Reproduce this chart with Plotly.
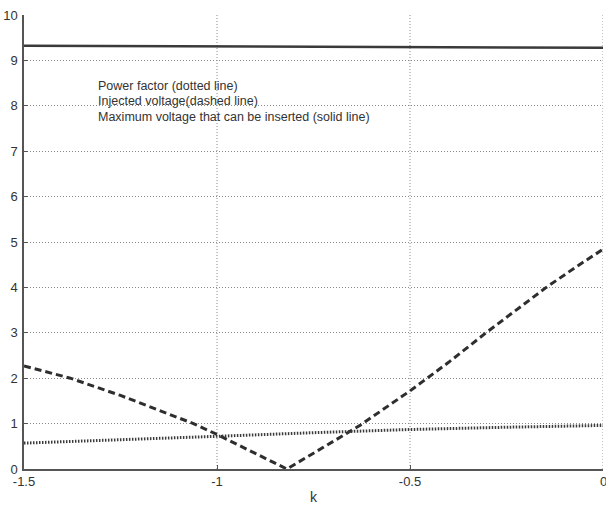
import plotly.graph_objects as go

# Maximum voltage that can be inserted (solid line)
k_max = [-1.5, -1.0, -0.5, 0.0]
v_max = [9.32, 9.31, 9.30, 9.28]

# Injected voltage (dashed line)
k_inj = [-1.5, -1.38, -1.25, -1.15, -1.061, -1.0, -0.9, -0.819,
         -0.72, -0.628, -0.5, -0.4, -0.303, -0.2, -0.147, -0.07, 0.0]
v_inj = [2.27, 2.0, 1.62, 1.3, 1.0, 0.76, 0.34, 0.0,
         0.5, 0.97, 1.72, 2.35, 3.0, 3.66, 4.0, 4.45, 4.84]

# Power factor (dotted line)
k_pf = [-1.5, -1.25, -1.0, -0.75, -0.5, -0.25, 0.0]
pf = [0.57, 0.64, 0.72, 0.80, 0.87, 0.92, 0.96]

x_ticks = [-1.5, -1, -0.5, 0]
x_tick_text = ["-1.5", "-1", "-0.5", "0"]
y_ticks = list(range(0, 11))

notes = ["Power factor (dotted line)",
         "Injected voltage(dashed line)",
         "Maximum voltage that can be inserted (solid line)"]
note_y = [8.44, 8.1, 7.76]

ink = "#333333"
font_fam = "Liberation Sans, Arial"

fig = go.Figure()
fig.add_trace(go.Scatter(x=k_max, y=v_max, mode="lines",
                         line=dict(color="#3a3a3a", width=2.5)))
fig.add_trace(go.Scatter(x=k_inj, y=v_inj, mode="lines",
                         line=dict(color="#2e2e2e", width=3, dash="7px,4px")))
fig.add_trace(go.Scatter(x=k_pf, y=pf, mode="lines",
                         line=dict(color="#3a3a3a", width=3, dash="1.5px,1.5px")))

for t, yy in zip(notes, note_y):
    fig.add_annotation(x=-1.313, y=yy, xref="x", yref="y", text=t,
                       showarrow=False, xanchor="left", yanchor="middle",
                       font=dict(family=font_fam, size=12.5, color=ink))

# last x tick label (plotly hides it at the edge)
fig.add_annotation(x=x_ticks[-1], y=0, xref="x", yref="paper", text=x_tick_text[-1],
                   showarrow=False, xanchor="center", yanchor="top", yshift=-3,
                   font=dict(family=font_fam, size=13, color=ink))

fig.update_layout(
    width=606, height=506,
    margin=dict(l=24, r=3, t=15, b=37),
    paper_bgcolor="white", plot_bgcolor="white",
    showlegend=False,
    font=dict(family=font_fam, size=13, color=ink),
)
fig.update_xaxes(range=[-1.5, 0], tickvals=x_ticks[:-1], ticktext=x_tick_text[:-1],
                 showgrid=False,
                 showline=True, linecolor="#555555", linewidth=1.5,
                 ticks="inside", ticklen=4, tickcolor="#555555",
                 zeroline=False, title=dict(text="k", standoff=4,
                 font=dict(size=14, color=ink)))
fig.update_yaxes(range=[0, 10], tickvals=y_ticks,
                 showgrid=True, gridcolor="#8a8a8a", griddash="1px,2px", gridwidth=1,
                 showline=True, linecolor="#555555", linewidth=1.5,
                 ticks="inside", ticklen=4, tickcolor="#555555",
                 zeroline=False, ticklabelstandoff=2)

# vertical grid lines as shapes at every x tick (including the x=0 edge)
for xv in x_ticks[1:]:
    fig.add_shape(type="line", x0=xv, x1=xv, y0=0, y1=1, xref="x", yref="paper",
                  line=dict(color="#8a8a8a", width=1, dash="1px,2px"), layer="below")

fig.write_html("out.html")
